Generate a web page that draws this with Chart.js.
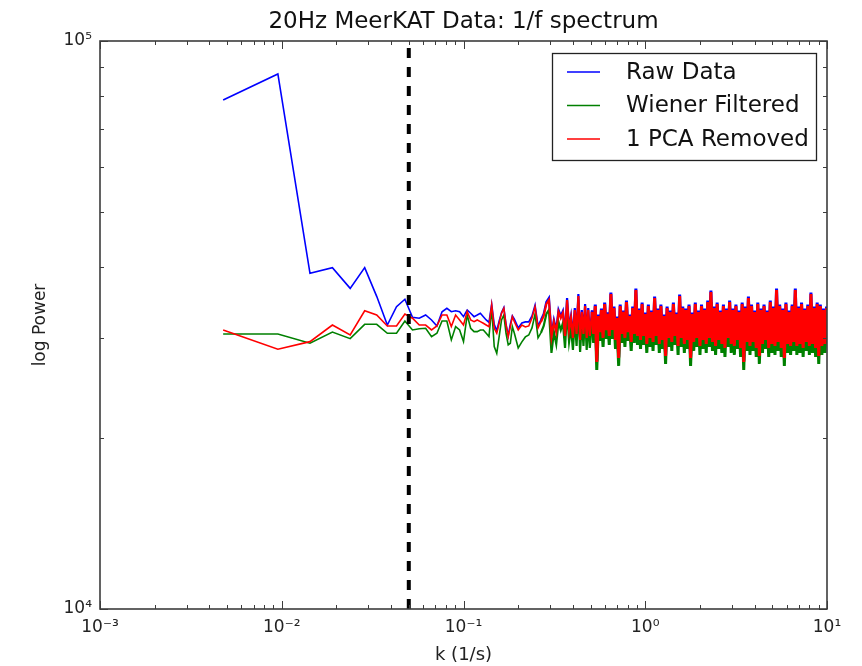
<!DOCTYPE html>
<html><head><meta charset="utf-8">
<script src="https://cdn.jsdelivr.net/npm/chart.js@4.4.1/dist/chart.umd.min.js"></script>
<style>html,body{margin:0;padding:0;background:#fff}canvas{display:block}</style>
</head><body>
<canvas id="c" width="862" height="666"></canvas>
<script>
// ---- data ----
const k = [
 0.00476,0.00952,0.0143,0.019,0.0238,0.0286,0.0333,0.0381,0.0428,0.0476,
 0.0524,0.0571,0.0619,0.0667,0.0714,0.0762,0.081,0.0857,0.0905,0.0952,
 0.1,0.1048,0.1095,0.1143,0.119,0.1238,0.1286,0.1333,0.1381,0.1429,
 0.1476,0.1524,0.1571,0.1619,0.1667,0.1714,0.1762,0.181,0.1857,0.1905,
 0.2,0.2095,0.219,0.2286,0.2381,0.2476,0.2571,0.2667,0.2762,0.2857,
 0.2952,0.3048,0.3143,0.3238,0.3333,0.3429,0.3524,0.3619,0.3714,0.381,
 0.3905,0.4,0.4095,0.419,0.4286,0.4381,0.4476,0.4571,0.4667,0.4762,
 0.4857,0.4952,
 0.51,0.52,0.531,0.541,0.552,0.563,0.574,0.586,0.598,0.61,
 0.622,0.634,0.647,0.66,0.673,0.686,0.7,0.714,0.728,0.743,
 0.758,0.773,0.788,0.804,0.82,0.837,0.853,0.87,0.888,0.906,
 0.924,0.942,0.961,0.98,1.0,1.02,1.04,1.061,1.082,1.104,
 1.126,1.149,1.172,1.195,1.219,1.243,1.268,1.294,1.319,1.346,
 1.373,1.4,1.428,1.457,1.486,1.516,1.546,1.577,1.608,1.641,
 1.673,1.707,1.741,1.776,1.811,1.848,1.885,1.922,1.961,2.0,
 2.04,2.081,2.122,2.165,2.208,2.252,2.297,2.343,2.39,2.438,
 2.487,2.536,2.587,2.639,2.692,2.745,2.8,2.856,2.913,2.972,
 3.031,3.092,3.154,3.217,3.281,3.347,3.414,3.482,3.551,3.623,
 3.695,3.769,3.844,3.921,4.0,4.08,4.161,4.244,4.329,4.416,
 4.504,4.594,4.686,4.78,4.875,4.973,5.072,5.174,5.277,5.383,
 5.49,5.6,5.712,5.826,5.943,6.062,6.183,6.307,6.433,6.561,
 6.693,6.826,6.963,7.102,7.244,7.389,7.537,7.687,7.841,7.998,
 8.158,8.321,8.488,8.658,8.831,9.007,9.188,9.371,9.559,9.75,
 9.945
];
const rawData = [
 78700,87500,38990,39900,36690,39900,35520,31620,34060,35100,
 32630,32500,32930,32270,31500,33370,33830,33370,33500,33380,
 32710,33610,33160,32710,32930,33160,32710,32280,31950,34400,
 31700,30900,32160,33260,33940,31720,30280,31720,32810,32380,
 31250,31890,32020,32020,32800,34290,31500,32280,33070,34710,
 35280,30370,32280,30990,33610,32800,33470,30490,35280,31250,
 32800,30250,33880,30740,35860,30010,33610,30740,34430,30250,
 33880,30490,
 33540,30610,34350,27340,33000,30860,33810,30130,34630,31110,
 33270,30370,36070,31110,34080,29890,32740,27780,34350,30610,
 33540,30130,34910,30860,33000,29650,34080,30610,36650,30370,
 33810,29890,34630,30370,33270,29410,34350,30130,33540,29650,
 35490,30370,33810,29410,34350,29890,33000,28010,34080,30130,
 33540,29650,34630,30370,33270,29170,35780,30130,34080,29410,
 33810,29890,34350,27780,33270,29650,34630,30130,33540,29170,
 34350,29890,33810,29410,34910,30130,36360,29650,34080,29170,
 34630,29890,33540,29410,34350,28940,33810,30130,34910,29410,
 33810,29170,34350,29890,33540,28940,34630,27340,34080,29650,
 35490,29170,34350,29650,33540,28940,34630,28010,33810,29410,
 34350,29890,33540,28940,34910,29410,34080,29170,36650,29650,
 34350,28940,33810,27780,34630,29410,33540,29170,34350,29650,
 36650,29170,34080,29410,34630,28940,33810,29650,34350,29170,
 36070,29410,34080,28940,34630,28010,34350,29170,33810,29410,
 34080
];
const wienerFiltered = [
 30490,30490,29370,30730,29920,31710,31710,30580,30580,32140,
 30990,31150,31210,30160,30580,32140,32140,29770,31420,30990,
 29570,32930,31210,30780,30780,30990,30990,30580,30170,33840,
 28970,28200,30170,32280,32930,30580,29170,29370,31410,30580,
 28820,29530,30130,30370,31250,33070,30010,30620,31500,33070,
 33610,28240,30740,29290,32020,30990,31890,28820,33610,29530,
 31250,28580,32280,29050,34150,28350,32020,29050,32800,28580,
 32280,28820,
 32020,29410,32800,26360,31500,29650,32280,28940,33070,29890,
 31760,29170,34430,29890,32540,28700,31250,26790,32800,29410,
 32020,28940,33340,29650,31500,28470,32540,29410,34990,29170,
 32280,28700,33070,29170,31760,28240,32800,28940,32020,28470,
 33880,29170,32280,28240,32800,28700,31500,27010,32540,28940,
 32020,28470,33070,29170,31760,28010,34150,28940,32540,28240,
 32280,28700,32800,26790,31760,28470,33070,28940,32020,28010,
 32800,28700,32280,28240,33340,28940,34710,28470,32540,28010,
 33070,28700,32020,28240,32800,27780,32280,28940,33340,28240,
 32280,28010,32800,28700,32020,27780,33070,26360,32540,28470,
 33880,28010,32800,28470,32020,27780,33070,27010,32280,28240,
 32800,28700,32020,27780,33340,28240,32540,28010,34990,28470,
 32800,27780,32280,26790,33070,28240,32020,28010,32800,28470,
 34990,28010,32540,28240,33070,27780,32280,28470,32800,28010,
 34430,28240,32540,27780,33070,27010,32800,28010,32280,28240,
 32540
];
const pcaRemoved = [
 30990,28660,29560,31620,30370,33500,32930,31500,31500,33070,
 32500,31620,31620,30990,31500,32930,32930,31420,32930,32280,
 31620,33380,32280,32060,32280,32060,31840,31620,31410,34290,
 31210,30580,31840,33160,33840,31620,30170,31410,32710,32060,
 30990,31630,31370,31500,32540,34020,31250,32020,32800,34430,
 34990,30130,32020,30740,33340,32540,33200,30250,34990,30990,
 32540,30010,33610,30490,35570,29770,33340,30490,34150,30010,
 33610,30250,
 33340,30490,34150,27230,32800,30740,33610,30010,34430,30990,
 33070,30250,35860,30990,33880,29770,32540,27670,34150,30490,
 33340,30010,34710,30740,32800,29530,33880,30490,36440,30250,
 33610,29770,34430,30250,33070,29290,34150,30010,33340,29530,
 35280,30250,33610,29290,34150,29770,32800,27900,33880,30010,
 33340,29530,34430,30250,33070,29050,35570,30010,33880,29290,
 33610,29770,34150,27670,33070,29530,34430,30010,33340,29050,
 34150,29770,33610,29290,34710,30010,36150,29530,33880,29050,
 34430,29770,33340,29290,34150,28820,33610,30010,34710,29290,
 33610,29050,34150,29770,33340,28820,34430,27230,33880,29530,
 35280,29050,34150,29530,33340,28820,34430,27900,33610,29290,
 34150,29770,33340,28820,34710,29290,33880,29050,36440,29530,
 34150,28820,33610,27670,34430,29290,33340,29050,34150,29530,
 36440,29050,33880,29290,34430,28820,33610,29530,34150,29050,
 35860,29290,33880,28820,34430,27900,34150,29050,33610,29290,
 33880
];
const cutoffK = 0.05;
const seriesNames = ['Raw Data', 'Wiener Filtered', '1 PCA Removed'];
const seriesColors = ['#0000ff', '#008000', '#ff0000'];
const xTickValues = [0.001, 0.01, 0.1, 1, 10];
const xTickLabels = ['10\u207B\u00B3', '10\u207B\u00B2', '10\u207B\u00B9', '10\u2070', '10\u00B9'];
const yTickValues = [10000, 100000];
const yTickLabels = ['10\u2074', '10\u2075'];
const titleText = '20Hz MeerKAT Data: 1/f spectrum';
const xTitle = 'k (1/s)';
const yTitle = 'log Power';

// ---- build ----
const FONT = "'DejaVu Sans', 'Liberation Sans', sans-serif";
const pts = arr => arr.map((v, i) => ({x: k[i], y: v}));
const labelFor = (vals, labels) => v => {
  const i = vals.findIndex(t => Math.abs(Math.log10(t) - Math.log10(v)) < 1e-6);
  return i >= 0 ? labels[i] : '';
};

const axisFrame = {
  id: 'axisFrame',
  afterDatasetsDraw(chart) {
    const {ctx, chartArea: a, scales: {x, y}} = chart;
    ctx.save();
    ctx.strokeStyle = '#3c3c3c';
    ctx.lineWidth = 1;
    ctx.beginPath();
    for (let d = -3; d <= 1; d++) {
      for (let m = 1; m <= 9; m++) {
        const v = m * Math.pow(10, d);
        if (v > 10.0001) break;
        const px = Math.round(x.getPixelForValue(v)) + 0.5;
        const len = m === 1 ? 8 : 4;
        ctx.moveTo(px, a.bottom); ctx.lineTo(px, a.bottom - len);
        ctx.moveTo(px, a.top); ctx.lineTo(px, a.top + len);
      }
    }
    for (let m = 1; m <= 10; m++) {
      const v = m * 10000;
      const py = Math.round(y.getPixelForValue(v)) + 0.5;
      const len = (m === 1 || m === 10) ? 8 : 4;
      ctx.moveTo(a.left, py); ctx.lineTo(a.left + len, py);
      ctx.moveTo(a.right, py); ctx.lineTo(a.right - len, py);
    }
    ctx.stroke();
    ctx.lineWidth = 1.6;
    ctx.strokeRect(a.left, a.top, a.right - a.left, a.bottom - a.top);
    ctx.restore();
  }
};

const boxLegend = {
  id: 'boxLegend',
  afterDraw(chart) {
    const {ctx, chartArea: a} = chart;
    const w = 264, h = 107;
    const left = a.right - 11 - w, top = a.top + 12;
    ctx.save();
    ctx.fillStyle = '#fff';
    ctx.fillRect(left, top, w, h);
    ctx.strokeStyle = '#222';
    ctx.lineWidth = 1.3;
    ctx.strokeRect(left + 0.5, top + 0.5, w, h);
    ctx.font = '23px ' + FONT;
    ctx.textBaseline = 'middle';
    seriesNames.forEach((name, i) => {
      const yy = top + 19 + i * 33.5;
      ctx.strokeStyle = seriesColors[i];
      ctx.lineWidth = 1.5;
      ctx.beginPath(); ctx.moveTo(left + 15, yy); ctx.lineTo(left + 48, yy); ctx.stroke();
      ctx.fillStyle = '#111';
      ctx.fillText(name, left + 74, yy + 1);
    });
    ctx.restore();
  }
};

const lineDs = (label, data, color, order) => ({
  label, data: pts(data), borderColor: color, borderWidth: 1.6,
  segment: {borderWidth: c => (c.p0.parsed.x > 0.5 ? 3 : (c.p0.parsed.x > 0.26 ? 2.2 : 1.6))},
  pointRadius: 0, tension: 0, fill: false, order
});

new Chart(document.getElementById('c'), {
  type: 'line',
  data: {
    datasets: [
      {label: 'cutoff', data: [{x: cutoffK, y: yTickValues[0]}, {x: cutoffK, y: yTickValues[1]}],
       borderColor: '#000', borderWidth: 4, borderDash: [10, 9], pointRadius: 0, order: 0},
      lineDs(seriesNames[2], pcaRemoved, seriesColors[2], 1),
      lineDs(seriesNames[1], wienerFiltered, seriesColors[1], 2),
      lineDs(seriesNames[0], rawData, seriesColors[0], 3)
    ]
  },
  options: {
    responsive: false, animation: false, devicePixelRatio: 1,
    layout: {padding: {left: 0, right: 35, top: 0, bottom: 0}},
    plugins: {
      legend: {display: false}, tooltip: {enabled: false},
      title: {display: true, fullSize: false, text: titleText, color: '#111',
              font: {family: FONT, size: 23, weight: 'normal', lineHeight: 1.2},
              padding: {top: 8, bottom: 5.4}}
    },
    scales: {
      x: {
        type: 'logarithmic', min: 0.001, max: 10,
        grid: {display: false, drawTicks: false}, border: {display: false},
        afterBuildTicks: s => { s.ticks = xTickValues.map(v => ({value: v})); },
        afterFit: s => { s.height = 57; },
        ticks: {autoSkip: false, maxRotation: 0, padding: 8, color: '#222',
                font: {family: FONT, size: 17}, callback: labelFor(xTickValues, xTickLabels)},
        title: {display: true, text: xTitle, color: '#222',
                font: {family: FONT, size: 18}, padding: 0}
      },
      y: {
        type: 'logarithmic', min: 10000, max: 100000,
        grid: {display: false, drawTicks: false}, border: {display: false},
        afterBuildTicks: s => { s.ticks = yTickValues.map(v => ({value: v})); },
        afterFit: s => { s.width = 100; },
        ticks: {autoSkip: false, padding: 8, color: '#222',
                font: {family: FONT, size: 17}, callback: labelFor(yTickValues, yTickLabels)},
        title: {display: true, text: yTitle, color: '#222',
                font: {family: FONT, size: 17}, padding: {top: 30, bottom: 0}}
      }
    }
  },
  plugins: [axisFrame, boxLegend]
});
</script>
</body></html>
